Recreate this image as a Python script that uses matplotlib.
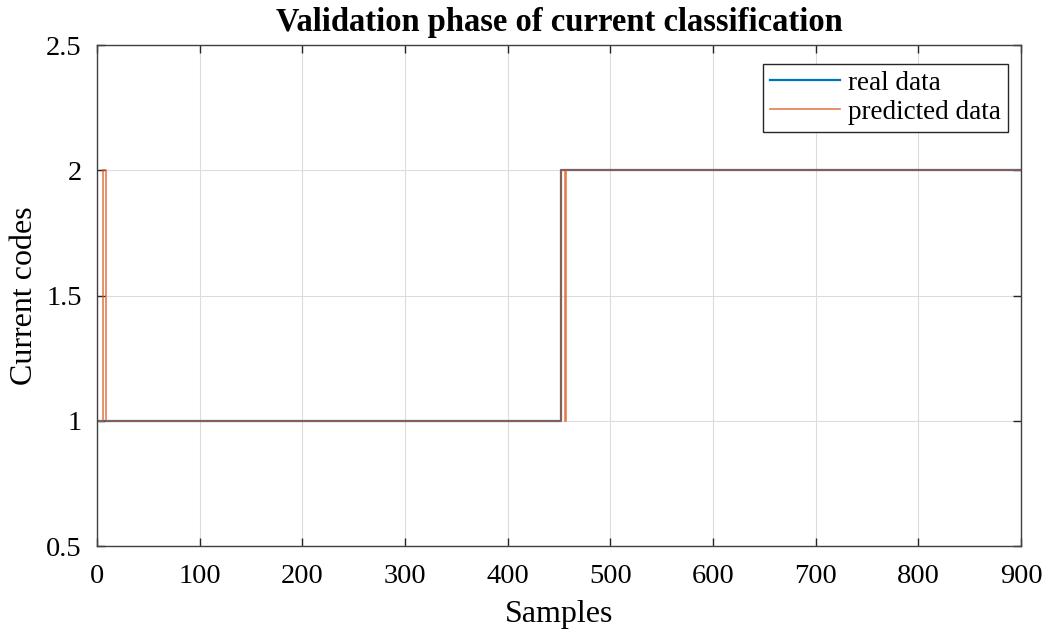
import matplotlib.pyplot as plt

# change points of the class sequences (sample index, code)
real_x = [1, 452, 452, 900]
real_y = [1, 1, 2, 2]

pred_x = [1, 6, 6, 9, 9, 452, 452, 456, 456, 457, 457, 900]
pred_y = [1, 1, 2, 2, 1, 1, 2, 2, 1, 1, 2, 2]

x_ticks = [0, 100, 200, 300, 400, 500, 600, 700, 800, 900]
y_ticks = [0.5, 1, 1.5, 2, 2.5]

plt.rcParams['font.family'] = ['Liberation Serif', 'DejaVu Serif']

fig = plt.figure(figsize=(10.54, 6.33), dpi=100)
ax = fig.add_axes([0.092, 0.1374, 0.8767, 0.7915])

ax.plot(real_x, real_y, color='#0072BD', lw=1.6, label='real data')
ax.plot(pred_x, pred_y, color='#D95319', lw=1.2, alpha=0.75, label='predicted data')

ax.set_xlim(0, 900)
ax.set_ylim(0.5, 2.5)
ax.set_xticks(x_ticks)
ax.set_yticks(y_ticks)
ax.set_yticklabels(['0.5', '1', '1.5', '2', '2.5'])
ax.grid(True, color='#dcdcdc', lw=0.8)
ax.set_axisbelow(True)
ax.tick_params(direction='in', top=True, right=True, labelsize=20.5, length=6,
               width=1, color='#262626')
ax.tick_params(axis='x', pad=13)
ax.tick_params(axis='y', pad=11)
for s in ax.spines.values():
    s.set_color('#404040')
    s.set_linewidth(1)

ax.set_xlabel('Samples', fontsize=23, labelpad=8)
ax.set_ylabel('Current codes', fontsize=23, labelpad=5)
ax.set_title('Validation phase of current classification', fontsize=23.5,
             fontweight='bold', pad=10)

leg = ax.legend(loc='upper right', bbox_to_anchor=(0.986, 0.962), fontsize=19.5,
                fancybox=False, framealpha=1, edgecolor='#262626', borderaxespad=0,
                handlelength=2.6, handletextpad=0.3, labelspacing=0.15, borderpad=0.25)
leg.get_frame().set_linewidth(1)

fig.savefig('out.png', dpi=100)
